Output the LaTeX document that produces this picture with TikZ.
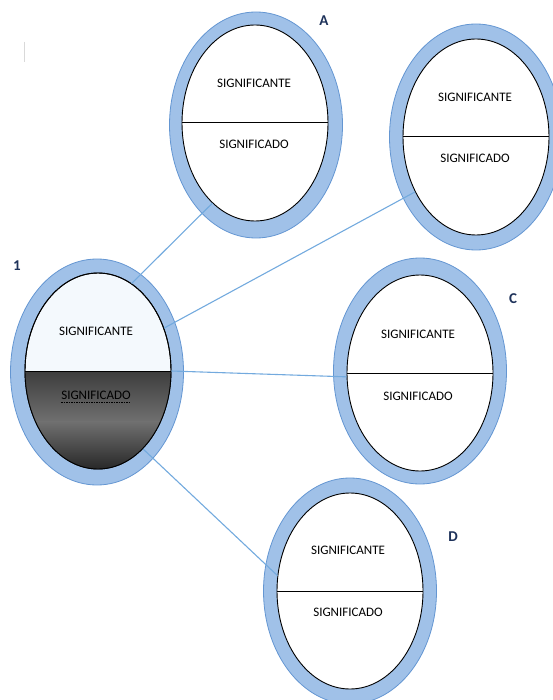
\documentclass[tikz,border=0pt]{standalone}
\usepackage{fontspec}
\setmainfont{Carlito}
\usetikzlibrary{shapes.geometric}
\definecolor{ringfill}{RGB}{160,193,232}
\definecolor{ringedge}{RGB}{100,150,210}
\definecolor{linkblue}{RGB}{115,170,222}
\definecolor{tagnavy}{RGB}{30,50,90}
\definecolor{paleblue}{RGB}{244,249,253}
\begin{document}
\begin{tikzpicture}[x=1pt,y=-1pt,
  ring/.style={ellipse, minimum width=173pt, minimum height=226pt, inner sep=0pt,
               fill=ringfill, draw=ringedge, line width=0.8pt},
  cell/.style={ellipse, minimum width=146pt, minimum height=196pt, inner sep=0pt,
               fill=white, draw=black, line width=0.9pt},
  divider/.style={black, line width=1pt},
  link/.style={linkblue, line width=1.1pt},
  word/.style={font=\fontsize{13}{15}\selectfont, text=black, inner sep=0pt},
  tag/.style={font=\fontsize{15}{17}\selectfont\bfseries, text=tagnavy, inner sep=0pt}]

\useasboundingbox (0,0) rectangle (553,700);

% text cursor mark
\draw[black!15, line width=1pt] (24,42) -- (24,62);

% outer blue rings
\node[ring] (r1) at (97,372) {};
\node[ring] (rA) at (256,125) {};
\node[ring] (rB) at (476,137) {};
\node[ring] (rC) at (420,371) {};
\node[ring] (rD) at (350,591) {};

% inner cells
\node[cell, fill=paleblue] (e1) at (98,371) {};
\node[cell] (eA) at (255,123) {};
\node[cell] (eB) at (476,137) {};
\node[cell] (eC) at (420,373) {};
\node[cell] (eD) at (350,591) {};

% shaded lower half of the first cell: dark, lighter band, dark
\begin{scope}
  \clip (98,371) ellipse [x radius=73, y radius=98];
  \shade[top color=black!76, bottom color=black!56] (20,371) rectangle (176,422);
  \shade[top color=black!56, bottom color=black!86] (20,421.5) rectangle (176,472);
\end{scope}
\draw[black, line width=0.9pt] (98,371) ellipse [x radius=73, y radius=98];

% connectors
\draw[link] (e1.69) -- (eA.242);
\draw[link] (e1.33) -- (eB.222);
\draw[link] (e1.0) -- (eC.183);
\draw[link] (e1.300) -- (eD.168);

% dividers
\foreach \n in {e1,eA,eB,eC,eD}
  \draw[divider] (\n.west) -- (\n.east);

% words
\node[word] (t11) at (96,331) {SIGNIFICANTE};
\node[word] (t12) at (96,395) {SIGNIFICADO};
\draw[black, densely dashed, dash pattern=on 1.5pt off 1pt, line width=0.8pt]
  ([yshift=-2.5pt]t12.south west) -- ([yshift=-2.5pt]t12.south east);
\node[word] (tA1) at (254,83) {SIGNIFICANTE};
\node[word] (tA2) at (254,144) {SIGNIFICADO};
\node[word] (tB1) at (475,97) {SIGNIFICANTE};
\node[word] (tB2) at (475,158) {SIGNIFICADO};
\node[word] (tC1) at (418,334) {SIGNIFICANTE};
\node[word] (tC2) at (418,396) {SIGNIFICADO};
\node[word] (tD1) at (348,550) {SIGNIFICANTE};
\node[word] (tD2) at (348,612) {SIGNIFICADO};

% labels
\node[tag] (k1) at (17,266) {1};
\node[tag] (kA) at (324,21) {A};
\node[tag] (kB) at (562,45) {B};
\node[tag] (kC) at (513,299) {C};
\node[tag] (kD) at (453,537) {D};
\end{tikzpicture}
\end{document}
